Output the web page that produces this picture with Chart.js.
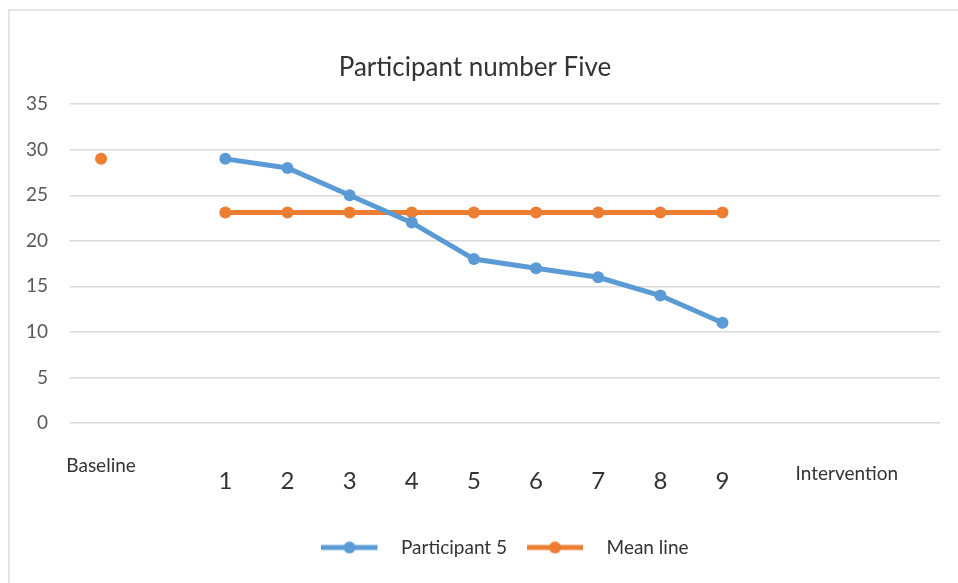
<!DOCTYPE html>
<html>
<head>
<meta charset="utf-8">
<script src="https://cdn.jsdelivr.net/npm/chart.js@4.4.0/dist/chart.umd.min.js"></script>
<style>
  body { margin: 0; background: #fff; }
  #wrap { position: relative; width: 958px; height: 583px; }
  #frame { position: absolute; left: 8px; top: 9px; right: 0; bottom: 0;
           border-top: 2px solid #e4e4e4; border-left: 2px solid #e4e4e4; }
  canvas { position: absolute; left: 0; top: 0; }
</style>
</head>
<body>
<div id="wrap">
  <div id="frame"></div>
  <canvas id="myChart" width="958" height="583"></canvas>
</div>
<script>
/*** data */
const categories = ['Baseline', '', '1', '2', '3', '4', '5', '6', '7', '8', '9', '', 'Intervention', ''];
const participant5 = [null, null, 29, 28, 25, 22, 18, 17, 16, 14, 11, null, null, null];
const meanLine = [29, null, 23.1, 23.1, 23.1, 23.1, 23.1, 23.1, 23.1, 23.1, 23.1, null, null, null];
const yTicks = [0, 5, 10, 15, 20, 25, 30, 35];

const blue = '#5b9bd5';
const orange = '#ed7d31';

/*** legend marker: a short line with a dot, like excel */
function legendMarker(color) {
  const c = document.createElement('canvas');
  c.width = 70;
  c.height = 14;
  const g = c.getContext('2d');
  g.strokeStyle = color;
  g.lineWidth = 5;
  g.beginPath();
  g.moveTo(0, 7);
  g.lineTo(56, 7);
  g.stroke();
  g.fillStyle = color;
  g.beginPath();
  g.arc(28, 7, 6, 0, Math.PI * 2);
  g.fill();
  return c;
}

// x labels sit at different heights in the original, so vary the line height per label
function xLabelFont(ctx) {
  const lab = categories[ctx.index];
  if (lab === 'Baseline') return { family: 'Lato, sans-serif', size: 19, lineHeight: '86px' };
  if (lab === 'Intervention') return { family: 'Lato, sans-serif', size: 19, lineHeight: '102px' };
  return { family: 'Lato, sans-serif', size: 24, lineHeight: '116px' };
}

const ctx = document.getElementById('myChart').getContext('2d');

const chart = new Chart(ctx, {
  type: 'line',
  data: {
    labels: categories,
    datasets: [{
      label: 'Participant 5',
      data: participant5,
      borderColor: blue,
      backgroundColor: blue,
      borderWidth: 5,
      pointRadius: 6,
      pointBorderWidth: 0,
      pointBackgroundColor: blue,
      tension: 0
    }, {
      label: 'Mean line',
      data: meanLine,
      borderColor: orange,
      backgroundColor: orange,
      borderWidth: 5,
      pointRadius: 6,
      pointBorderWidth: 0,
      pointBackgroundColor: orange,
      tension: 0
    }]
  },
  options: {
    responsive: false,
    animation: false,
    layout: { padding: { left: 10, right: 18, top: 0, bottom: 16 } },
    plugins: {
      title: {
        display: true,
        text: 'Participant number Five',
        color: '#333333',
        font: { family: 'Lato, sans-serif', size: 26, weight: 'normal', lineHeight: 1.2 },
        padding: { top: 52, bottom: 21 }
      },
      legend: {
        position: 'bottom',
        fullSize: false,
        labels: {
          usePointStyle: true,
          pointStyleWidth: 70,
          padding: 20,
          color: '#333333',
          font: { family: 'Lato, sans-serif', size: 19 },
          generateLabels: function (ch) {
            return ch.data.datasets.map(function (ds, i) {
              return {
                text: ds.label,
                pointStyle: legendMarker(ds.borderColor),
                fillStyle: ds.borderColor,
                strokeStyle: ds.borderColor,
                lineWidth: 0,
                fontColor: '#333333',
                hidden: false,
                datasetIndex: i
              };
            });
          }
        }
      },
      tooltip: { enabled: false }
    },
    scales: {
      x: {
        offset: true,
        grid: { display: false, drawTicks: false },
        border: { display: false },
        ticks: {
          autoSkip: false,
          maxRotation: 0,
          minRotation: 0,
          padding: 0,
          color: '#333333',
          font: xLabelFont
        },
        afterFit: function (axis) { axis.height = 95; }
      },
      y: {
        min: 0,
        max: 35,
        grid: { color: '#d9d9d9', lineWidth: 1.5, drawTicks: false },
        border: { display: false },
        afterBuildTicks: function (axis) {
          axis.ticks = yTicks.map(function (v) { return { value: v }; });
        },
        ticks: {
          padding: 22,
          color: '#595959',
          font: { family: 'Lato, sans-serif', size: 19 }
        },
        afterFit: function (axis) { axis.width = 60; }
      }
    }
  }
});
</script>
</body>
</html>
